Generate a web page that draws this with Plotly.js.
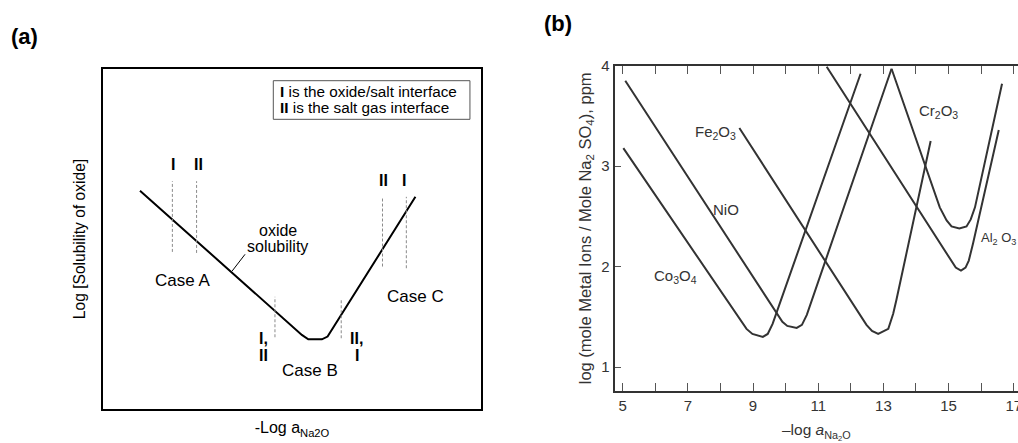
<!DOCTYPE html>
<html>
<head>
<meta charset="utf-8">
<script src="https://cdn.plot.ly/plotly-3.0.1.min.js"></script>
<style>
  html, body { margin: 0; padding: 0; background: #fff; overflow: hidden; }
  #chart { width: 1018px; height: 443px; }
</style>
</head>
<body>
<div id="chart"></div>
<script>
// ---- Panel (a): schematic oxide solubility curve (arbitrary units 0-100) ----
const solX = [9.85, 52.6, 54.3, 57.9, 59.4, 82.6];
const solY = [64.2, 21.8, 20.5, 20.5, 21.3, 62.4];

// interface positions (dashed verticals) for cases A, B, C
const ifaceX  = [18.4, 24.8, 45.5, 63.0, 73.9, 80.2];
const ifaceLo = [46.2, 45.9, 21.1, 20.8, 41.9, 41.4];
const ifaceHi = [67.0, 67.0, 33.0, 32.4, 62.4, 62.4];

// leader from the "oxide solubility" label to the curve
const leaderX = [37.6, 34.2];
const leaderY = [45.5, 40.6];

// ---- Panel (b): solubility of oxides in fused Na2SO4 ----
const co3o4X = [5.02, 8.80, 8.98, 9.15, 9.30, 9.45, 9.60, 12.30];
const co3o4Y = [3.18, 1.38, 1.33, 1.31, 1.30, 1.33, 1.43, 3.92];

const nioX = [5.08, 9.90, 10.05, 10.34, 10.50, 10.65, 13.25];
const nioY = [3.85, 1.45, 1.41, 1.39, 1.42, 1.52, 3.97];

const fe2o3X = [8.58, 12.48, 12.65, 12.84, 13.15, 13.30, 13.40, 14.45];
const fe2o3Y = [3.38, 1.42, 1.36, 1.33, 1.38, 1.53, 1.67, 3.25];

const cr2o3X = [13.25, 14.73, 14.94, 15.09, 15.33, 15.55, 15.68, 15.81, 16.64];
const cr2o3Y = [3.97, 2.59, 2.46, 2.40, 2.38, 2.40, 2.47, 2.59, 3.82];

const al2o3X = [11.26, 15.09, 15.22, 15.38, 15.52, 15.62, 15.75, 16.54];
const al2o3Y = [3.99, 2.06, 1.99, 1.96, 1.99, 2.06, 2.23, 3.36];

const xTickVals = [5, 6, 7, 8, 9, 10, 11, 12, 13, 14, 15, 16, 17];
const xTickText = ['5', '', '7', '', '9', '', '11', '', '13', '', '15', '', '17'];
const yTickVals = [1, 2, 3, 4];

const FONT = 'Liberation Sans, Arial, Helvetica, sans-serif';
const LINE_B = '#333333';

// dashed verticals as one trace, separated by gaps
const ifaceLineX = [], ifaceLineY = [];
ifaceX.forEach((x, i) => {
  ifaceLineX.push(x, x, null);
  ifaceLineY.push(ifaceLo[i], ifaceHi[i], null);
});

function curve(x, y) {
  return {
    x: x, y: y, xaxis: 'x2', yaxis: 'y2', mode: 'lines',
    line: { color: LINE_B, width: 2 }, hoverinfo: 'skip'
  };
}

const data = [
  { x: solX, y: solY, mode: 'lines', line: { color: '#000', width: 2 }, hoverinfo: 'skip' },
  { x: ifaceLineX, y: ifaceLineY, mode: 'lines',
    line: { color: '#8a8a8a', width: 1, dash: '3px,2px' }, hoverinfo: 'skip' },
  { x: leaderX, y: leaderY, mode: 'lines', line: { color: '#000', width: 1 }, hoverinfo: 'skip' },
  curve(co3o4X, co3o4Y),
  curve(nioX, nioY),
  curve(fe2o3X, fe2o3Y),
  curve(cr2o3X, cr2o3Y),
  curve(al2o3X, al2o3Y)
];

function txtA(text, x, y, size, opts) {
  return Object.assign({
    text: text, x: x, y: y, xref: 'x', yref: 'y', showarrow: false,
    xanchor: 'center', yanchor: 'middle',
    font: { family: FONT, size: size, color: '#000' }
  }, opts || {});
}
function txtB(text, x, y, opts) {
  return Object.assign({
    text: text, x: x, y: y, xref: 'x2', yref: 'y2', showarrow: false,
    xanchor: 'center', yanchor: 'middle',
    font: { family: FONT, size: 15, color: '#333' }
  }, opts || {});
}

const annotations = [
  // panel letters
  { text: '<b>(a)</b>', x: 24 / 1018, y: 1 - 37 / 443, xref: 'paper', yref: 'paper',
    xanchor: 'center', yanchor: 'middle',
    showarrow: false, font: { family: FONT, size: 22, color: '#000' } },
  { text: '<b>(b)</b>', x: 558 / 1018, y: 1 - 23 / 443, xref: 'paper', yref: 'paper',
    xanchor: 'center', yanchor: 'middle',
    showarrow: false, font: { family: FONT, size: 22, color: '#000' } },

  // panel (a) key
  txtA('<b>I</b> is the oxide/salt interface', 46.3, 93.3, 15.3, { xanchor: 'left' }),
  txtA('<b>II</b> is the salt gas interface', 46.3, 88.6, 15.3, { xanchor: 'left' }),

  // interface labels
  txtA('<b>I</b>', 18.6, 71.8, 16),
  txtA('<b>II</b>', 25.4, 71.8, 16),
  txtA('<b>II</b>', 74.1, 67.1, 16),
  txtA('<b>I</b>', 79.6, 67.1, 16),
  txtA('<b>I,</b>', 42.6, 20.8, 16),
  txtA('<b>II</b>', 42.4, 15.6, 16),
  txtA('<b>II,</b>', 67.1, 20.8, 16),
  txtA('<b>I</b>', 67.1, 15.6, 16),

  txtA('Case A', 21.1, 37.9, 17),
  txtA('Case B', 54.8, 11.2, 17),
  txtA('Case C', 82.5, 33.2, 17),
  txtA('oxide', 46.2, 52.4, 16),
  txtA('solubility', 46.2, 47.7, 16),

  // panel (b) curve labels
  txtB('Fe<sub>2</sub>O<sub>3</sub>', 7.86, 3.34),
  txtB('NiO', 8.17, 2.57),
  txtB('Co<sub>3</sub>O<sub>4</sub>', 6.63, 1.90),
  txtB('Cr<sub>2</sub>O<sub>3</sub>', 14.69, 3.54),
  txtB('Al<sub>2</sub> O<sub>3</sub>', 17.13, 2.28, { xanchor: 'right', font: { family: FONT, size: 13, color: '#333' } })
];

const layout = {
  width: 1018, height: 443,
  margin: { l: 0, r: 0, t: 0, b: 0 },
  paper_bgcolor: '#fff', plot_bgcolor: '#fff',
  showlegend: false,
  font: { family: FONT, color: '#000' },
  xaxis: {
    domain: [102.7 / 1018, 481.3 / 1018], range: [0, 100],
    showline: true, mirror: true, linecolor: '#000', linewidth: 2,
    showgrid: false, zeroline: false, showticklabels: false, ticks: '',
    fixedrange: true,
    title: { text: '-Log a<sub>Na2O</sub>', font: { family: FONT, size: 16, color: '#000' }, standoff: 12 }
  },
  yaxis: {
    domain: [(443 - 409) / 443, (443 - 69) / 443], range: [0, 100],
    showline: true, mirror: true, linecolor: '#000', linewidth: 2,
    showgrid: false, zeroline: false, showticklabels: false, ticks: '',
    fixedrange: true,
    title: { text: 'Log [Solubility of oxide]', font: { family: FONT, size: 15.6, color: '#000' }, standoff: 11 }
  },
  xaxis2: {
    anchor: 'y2',
    domain: [614.7 / 1018, 1], range: [4.755, 17.13],
    showline: true, mirror: 'allticks', linecolor: LINE_B, linewidth: 2,
    showgrid: false, zeroline: false,
    ticks: 'inside', ticklen: 8, tickwidth: 1, tickcolor: '#555',
    tickmode: 'array', tickvals: xTickVals, ticktext: xTickText,
    ticklabeloverflow: 'allow',
    tickfont: { family: FONT, size: 15, color: '#333' },
    fixedrange: true,
    title: { text: '\u2013log <i>a</i><sub>Na<sub>2</sub>O</sub>', font: { family: FONT, size: 15.5, color: '#333' }, standoff: 14 }
  },
  yaxis2: {
    anchor: 'x2',
    domain: [(443 - 391) / 443, (443 - 65.7) / 443], range: [0.762, 4.0],
    showline: true, mirror: false, linecolor: LINE_B, linewidth: 2,
    showgrid: false, zeroline: false,
    ticks: 'inside', ticklen: 6, tickwidth: 1, tickcolor: '#555',
    tickmode: 'array', tickvals: yTickVals,
    tickfont: { family: FONT, size: 15, color: '#333' },
    fixedrange: true,
    title: { text: 'log (mole Metal Ions / Mole Na<sub>2</sub> SO<sub>4</sub>), ppm', font: { family: FONT, size: 16.5, color: '#333' }, standoff: 6 }
  },
  shapes: [
    { type: 'rect', xref: 'x', yref: 'y', x0: 45.06, x1: 97.0, y0: 85.2, y1: 96.56,
      line: { color: '#555', width: 1 }, fillcolor: 'rgba(0,0,0,0)' }
  ],
  annotations: annotations
};

Plotly.newPlot('chart', data, layout, { displayModeBar: false, staticPlot: true });
</script>
</body>
</html>
